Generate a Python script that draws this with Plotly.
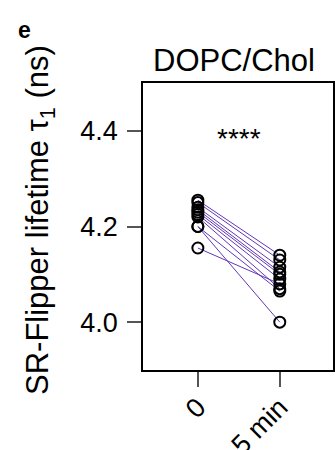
import plotly.graph_objects as go

categories = ["0", "5 min"]
before = [4.255, 4.25, 4.24, 4.235, 4.23, 4.225, 4.22, 4.20, 4.20, 4.155]
after = [4.14, 4.13, 4.115, 4.105, 4.10, 4.09, 4.07, 4.065, 4.00, 4.08]
y_ticks = [4.0, 4.2, 4.4]
title = "DOPC/Chol"
sig = "****"

W, H = 335, 450
L, R, T, B = 143, 2, 83, 80
pw, ph = W - L - R, H - T - B

def px(xp):
    return (xp - L) / pw

def py(yp):
    return (H - B - yp) / ph

lx, ly = [], []
for a, b in zip(before, after):
    lx += [0, 1, None]
    ly += [a, b, None]

fig = go.Figure()
fig.add_trace(go.Scatter(x=lx, y=ly, mode="lines",
                         line=dict(color="#6337b8", width=1), hoverinfo="skip"))
fig.add_trace(go.Scatter(x=[0] * len(before), y=before, mode="markers",
                         marker=dict(symbol="circle-open", size=11, color="black",
                                     line=dict(width=2, color="black"))))
fig.add_trace(go.Scatter(x=[1] * len(after), y=after, mode="markers",
                         marker=dict(symbol="circle-open", size=11, color="black",
                                     line=dict(width=2, color="black"))))

font = "Liberation Sans, Arial, sans-serif"
fig.update_layout(
    width=W, height=H, showlegend=False,
    margin=dict(l=L, r=R, t=T, b=B, pad=0, autoexpand=False),
    plot_bgcolor="white", paper_bgcolor="white",
    font=dict(family=font, color="black"),
    xaxis=dict(range=[-0.67, 1.65], tickvals=[0, 1], ticktext=categories,
               tickangle=-45, ticks="outside", ticklen=15, tickcolor="#555",
               tickwidth=1.5, showline=True, linecolor="black", linewidth=1.5,
               mirror=True, showgrid=False, zeroline=False, automargin=False,
               ticklabelstandoff=-6,
               tickfont=dict(size=27, family=font)),
    yaxis=dict(range=[3.9, 4.5], tickvals=y_ticks,
               ticktext=[f"{v:.1f}" for v in y_ticks],
               ticks="outside", ticklen=14, tickcolor="#555", tickwidth=1.5,
               showline=True, linecolor="black", linewidth=1.5, mirror=True,
               showgrid=False, zeroline=False, automargin=False,
               ticklabelstandoff=4,
               tickfont=dict(size=27, family=font)),
)

fig.add_annotation(text=title, xref="paper", yref="paper", x=px(234), y=py(61),
                   showarrow=False, font=dict(size=31, family=font),
                   xanchor="center", yanchor="middle")
fig.add_annotation(text=sig, xref="x", yref="y", x=0.5, y=4.4 - (138 - 130) / 480,
                   showarrow=False, font=dict(size=28, family=font),
                   xanchor="center", yanchor="middle")
fig.add_annotation(text="SR-Flipper lifetime τ<sub>1</sub> (ns)", xref="paper", yref="paper",
                   x=px(40), y=py(220), textangle=-90, showarrow=False,
                   font=dict(size=31, family=font), xanchor="center", yanchor="middle")
fig.add_annotation(text="e", xref="paper", yref="paper", x=px(24), y=py(30),
                   showarrow=False, font=dict(size=23, family=font, weight="bold"),
                   xanchor="center", yanchor="middle")

fig.write_html("out.html")
